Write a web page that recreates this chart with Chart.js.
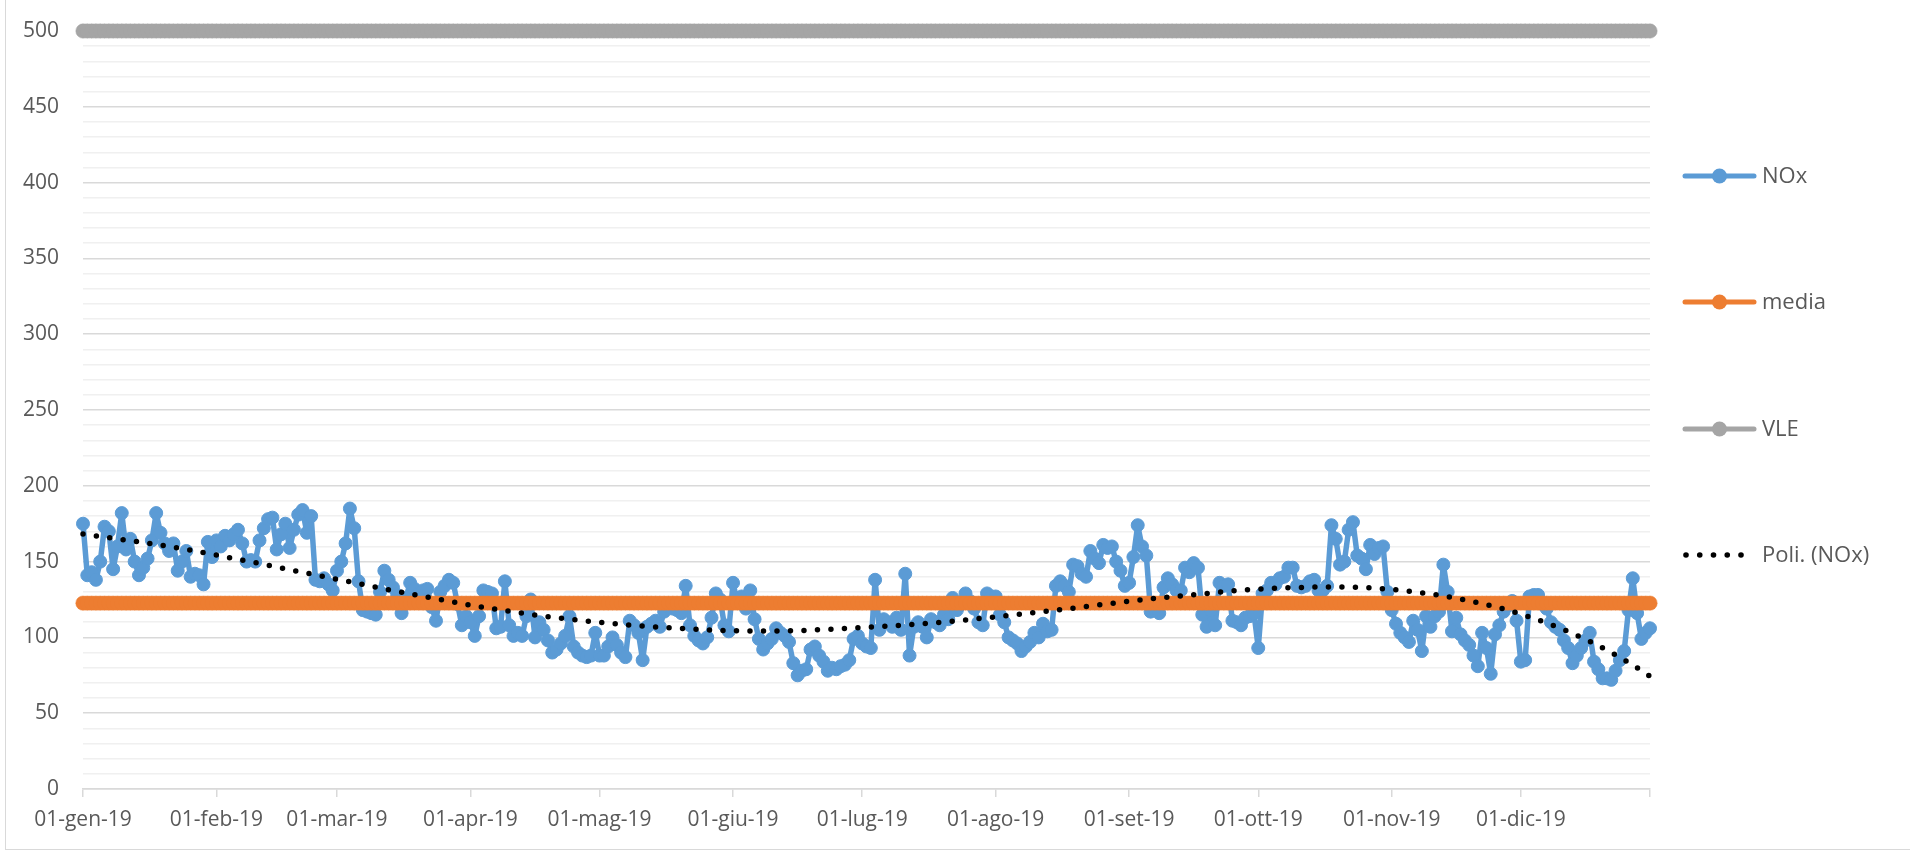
<!DOCTYPE html>
<html>
<head>
<meta charset="utf-8">
<script src="https://cdn.jsdelivr.net/npm/chart.js@4.4.1/dist/chart.umd.min.js"></script>
<style>
html,body{margin:0;padding:0;background:#fff;overflow:hidden}
#wrap{position:relative;width:1910px;height:851px}
#frame{position:absolute;left:5px;top:-10px;width:1920px;height:860px;border:1px solid #d9d9d9;box-sizing:border-box;pointer-events:none}
canvas{position:absolute;left:0;top:0}
</style>
</head>
<body>
<div id="wrap"><canvas id="c" width="1910" height="851"></canvas><div id="frame"></div></div>
<script>
// ---- categories ----
const monthNames = ['gen','feb','mar','apr','mag','giu','lug','ago','set','ott','nov','dic'];
const monthLengths = [31,28,31,30,31,30,31,31,30,31,30,31];
const tickLabels = ['01-gen-19','01-feb-19','01-mar-19','01-apr-19','01-mag-19','01-giu-19','01-lug-19','01-ago-19','01-set-19','01-ott-19','01-nov-19','01-dic-19'];

// ---- NOx daily values ----
const noxGen = [175,141,143,138,150,173,170,145,160,182,158,165,150,141,146,152,164,182,169,162,157,162,144,150,157,140,142,141,135,163,153];
const noxFeb = [164,160,167,164,168,171,162,150,151,150,164,172,178,179,158,168,175,159,171,181,184,169,180,138,137,139,135,131];
const noxMar = [144,150,162,185,172,137,118,117,116,115,130,144,138,133,128,116,126,136,132,129,131,132,120,111,130,134,138,136,122,108,114];
const noxApr = [110,101,114,131,130,129,106,107,137,108,101,103,101,114,125,100,110,105,98,90,92,96,101,114,94,90,88,87,88,103];
const noxMag = [88,88,94,100,95,90,87,111,108,103,85,107,109,111,107,117,120,119,118,116,134,108,101,98,96,100,113,129,125,108,104];
const noxGiu = [136,123,127,119,131,112,99,92,96,99,106,103,101,97,83,75,78,79,92,94,88,84,78,80,79,81,82,85,99,101];
const noxLug = [96,94,93,138,105,112,110,107,113,105,142,88,107,110,107,100,112,110,108,115,112,126,118,122,129,124,119,110,108,129,127];
const noxAgo = [127,115,110,100,98,96,91,94,97,103,100,109,104,105,134,137,134,130,148,147,142,140,157,152,149,161,159,160,150,144,134];
const noxSet = [136,153,174,160,154,117,118,116,133,139,135,131,131,146,143,149,146,115,107,118,108,136,134,135,111,110,108,113,114,116];
const noxOtt = [93,129,131,136,135,139,140,146,146,134,133,134,137,138,131,131,134,174,165,148,150,171,176,154,152,145,161,155,159,160,130];
const noxNov = [118,109,103,100,97,111,105,91,114,107,114,117,148,130,104,113,102,98,95,88,81,103,93,76,102,108,117,121,124,111];
const noxDic = [84,85,127,128,128,122,119,110,107,105,98,93,83,88,93,98,103,84,79,73,73,72,78,85,91,118,139,116,99,103,106];

// ---- constant reference values ----
const mediaValue = 122.6;
const vleValue = 500;

// ---- polynomial trend line (day index -> value) ----
const trendDays = [0,10,20,30,40,50,60,70,80,90,100,110,120,130,140,150,160,170,180,190,200,210,220,230,240,250,260,270,280,290,300,310,320,330,340,350,360,364];
const trendValues = [168.2,164.2,160,154.8,149.3,143.5,137.8,132,126.6,121.3,116.8,113,109.9,107.5,105.8,104.4,104.2,104.9,106.4,108,110.2,113,116,119.3,122.8,126,128.7,131.4,132.7,133.3,132.5,129.8,125.3,118.7,109.5,97.4,81.8,74.3];

// ---- build tables for the library ----
const categories = [];
monthNames.forEach((m, mi) => {
  for (let d = 1; d <= monthLengths[mi]; d++) {
    categories.push(String(d).padStart(2,'0') + '-' + m + '-19');
  }
});
const nox = [].concat(noxGen,noxFeb,noxMar,noxApr,noxMag,noxGiu,noxLug,noxAgo,noxSet,noxOtt,noxNov,noxDic);
const media = categories.map(() => mediaValue);
const vle = categories.map(() => vleValue);
const trend = categories.map(() => null);
trendDays.forEach((d, i) => { trend[d] = trendValues[i]; });

const FONT = '"Open Sans", "Noto Sans", sans-serif';
const TEXT = '#595959';

const sideLegend = {
  id: 'sideLegend',
  afterDraw(chart) {
    const ctx = chart.ctx;
    const x0 = chart.chartArea.right + 33;
    const ys = [176, 302, 429, 555];
    chart.data.datasets.forEach((ds, i) => {
      const y = ys[i];
      ctx.save();
      if (i < 3) {
        ctx.strokeStyle = ds.borderColor;
        ctx.lineWidth = 5;
        ctx.lineCap = 'round';
        ctx.beginPath();
        ctx.moveTo(x0 + 2, y);
        ctx.lineTo(x0 + 71, y);
        ctx.stroke();
        ctx.fillStyle = ds.borderColor;
        ctx.beginPath();
        ctx.arc(x0 + 36.5, y, 7.5, 0, Math.PI * 2);
        ctx.fill();
      } else {
        ctx.fillStyle = '#000';
        for (let k = 0; k < 5; k++) {
          ctx.beginPath();
          ctx.arc(x0 + 3 + k * 13.75, y, 2.8, 0, Math.PI * 2);
          ctx.fill();
        }
      }
      ctx.fillStyle = TEXT;
      ctx.font = '22px ' + FONT;
      ctx.textBaseline = 'middle';
      ctx.textAlign = 'left';
      ctx.fillText(ds.label, x0 + 79, y + 1);
      ctx.restore();
    });
  }
};

const isTickIndex = (i) => categories[i] && (categories[i].startsWith('01-') || i === categories.length - 1);

new Chart(document.getElementById('c'), {
  type: 'line',
  data: {
    labels: categories,
    datasets: [
      { label: 'NOx', data: nox, borderColor: '#5B9BD5', backgroundColor: '#5B9BD5',
        borderWidth: 5.5, borderJoinStyle: 'round', borderCapStyle: 'round',
        pointRadius: 6.5, pointBorderWidth: 1, pointBackgroundColor: '#5B9BD5',
        pointBorderColor: '#5B9BD5', tension: 0, order: 3, clip: false },
      { label: 'media', data: media, borderColor: '#ED7D31', backgroundColor: '#ED7D31',
        borderWidth: 5, pointRadius: 7.2, pointBorderWidth: 0.5, pointBackgroundColor: '#ED7D31',
        pointBorderColor: '#ED7D31', order: 2, clip: false },
      { label: 'VLE', data: vle, borderColor: '#A5A5A5', backgroundColor: '#A5A5A5',
        borderWidth: 5, pointRadius: 7.2, pointBorderWidth: 0.5, pointBackgroundColor: '#A5A5A5',
        pointBorderColor: '#A5A5A5', order: 1, clip: false },
      { label: 'Poli. (NOx)', data: trend, borderColor: '#000000', backgroundColor: '#000000',
        borderWidth: 5.5, borderDash: [0, 13.5], borderCapStyle: 'round', pointRadius: 0,
        spanGaps: true, cubicInterpolationMode: 'monotone', order: 0, clip: false }
    ]
  },
  options: {
    animation: false,
    responsive: false,
    events: [],
    layout: { padding: { top: 31, right: 260, bottom: 0, left: 0 } },
    plugins: { legend: { display: false }, tooltip: { enabled: false } },
    scales: {
      x: {
        type: 'category',
        offset: false,
        grid: {
          drawOnChartArea: false, drawTicks: true, tickLength: 8, lineWidth: 1.5,
          color: (c) => isTickIndex(c.index) ? '#d9d9d9' : 'rgba(0,0,0,0)'
        },
        border: { color: '#d9d9d9', width: 1.5 },
        ticks: {
          autoSkip: false, maxRotation: 0, minRotation: 0, padding: 10, color: TEXT,
          font: { family: FONT, size: 21 },
          callback: (v, i) => (categories[i] && categories[i].startsWith('01-')) ? tickLabels[monthNames.indexOf(categories[i].slice(3,6))] : ''
        },
        afterFit: (s) => { s.height = 62; }
      },
      y: {
        min: 0, max: 500,
        ticks: {
          stepSize: 10, maxTicksLimit: 100, autoSkip: false, padding: 24, color: TEXT,
          font: { family: FONT, size: 21 },
          callback: (v) => (v % 50 === 0) ? String(v) : ''
        },
        grid: {
          drawTicks: false, lineWidth: 1.5,
          color: (c) => (c.tick && c.tick.value % 50 === 0) ? '#d9d9d9' : '#f0f0f0'
        },
        border: { display: false },
        afterFit: (s) => { s.width = 83; s.paddingTop = 0; s.paddingBottom = 0; }
      }
    }
  },
  plugins: [sideLegend]
});
</script>
</body>
</html>
